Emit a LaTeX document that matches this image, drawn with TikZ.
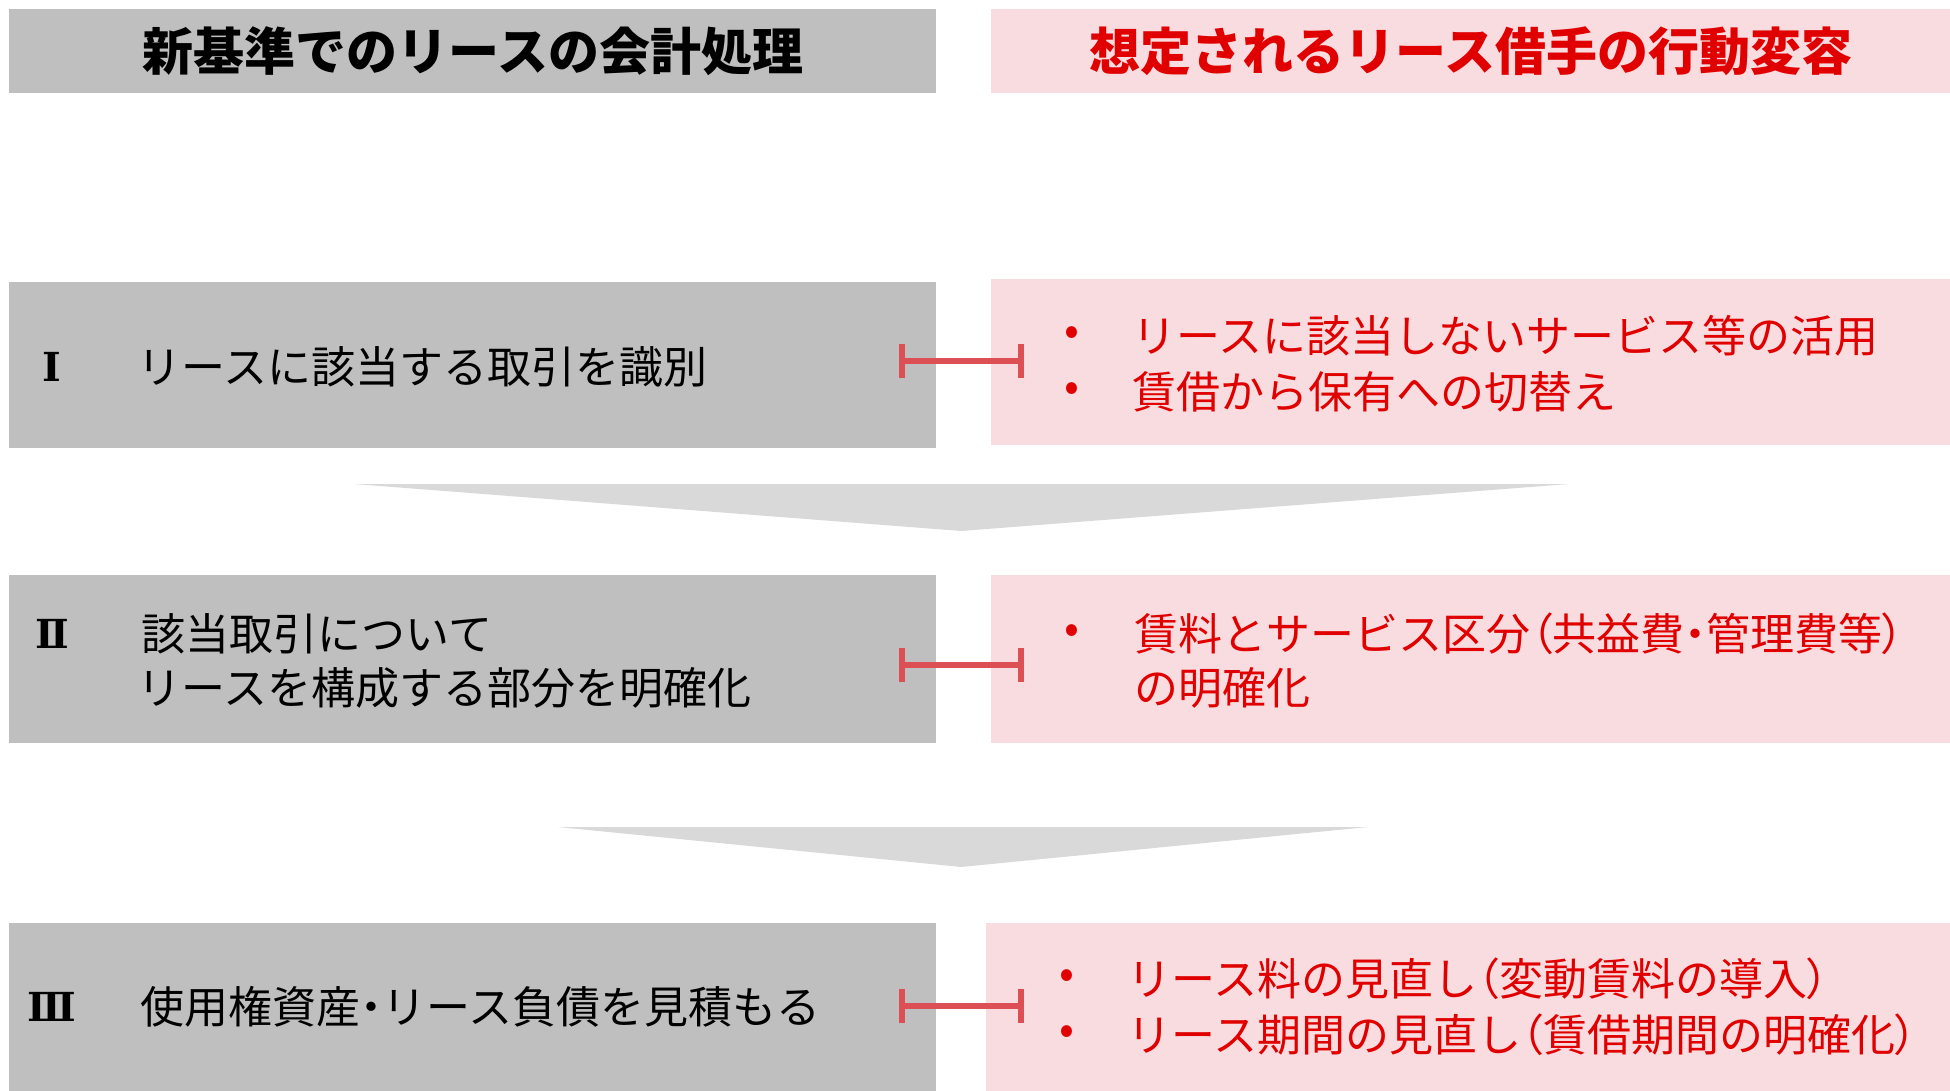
\documentclass[tikz,border=0pt]{standalone}
\usepackage{fontspec}
\newfontfamily\jp{Noto Sans CJK JP}
\newfontfamily\jpp[RawFeature=+palt]{Noto Sans CJK JP}
\newfontfamily\numf{DejaVu Serif}
\usetikzlibrary{arrows.meta}
\definecolor{boxgray}{HTML}{BFBFBF}
\definecolor{boxpink}{HTML}{F9DCDF}
\definecolor{txtred}{HTML}{E00000}
\definecolor{connred}{HTML}{DB4F55}
\definecolor{chev}{HTML}{D9D9D9}
\newcommand{\hw}[1]{{\jpp #1}}
\tikzset{
  lbox/.style={fill=boxgray, draw=none, anchor=north west, inner sep=0pt, minimum width=463.5pt},
  rbox/.style={fill=boxpink, draw=none, anchor=north west, inner sep=0pt},
  headL/.style={font=\jp\bfseries\fontsize{25.5pt}{30pt}\selectfont, text=black, inner sep=0pt},
  headR/.style={font=\jp\bfseries\fontsize{25.5pt}{30pt}\selectfont, text=txtred, inner sep=0pt},
  ltext/.style={font=\jp\fontsize{22pt}{27pt}\selectfont, text=black, inner sep=0pt, anchor=west, align=left},
  rtext/.style={font=\jp\fontsize{22pt}{27pt}\selectfont, text=txtred, inner sep=0pt, anchor=west, align=left},
  num/.style={font=\numf\bfseries\fontsize{20pt}{24pt}\selectfont, text=black, inner sep=0pt},
  bul/.style={font=\jp\fontsize{22pt}{27pt}\selectfont, text=txtred, inner sep=0pt},
  conn/.style={draw=connred, line width=2.6pt, {Bar[width=17pt,line width=3pt]}-{Bar[width=17pt,line width=3pt]}},
  chevron/.style={fill=chev, draw=none}
}
\begin{document}
\begin{tikzpicture}[x=0.5pt, y=-0.5pt]
\useasboundingbox (0,0) rectangle (1950,1091);
% headers
\node[lbox, minimum height=42pt] (hl) at (9,9) {};
\node[rbox, minimum width=479.5pt, minimum height=42pt] (hr) at (991,9) {};
\node[headL] (hlt) at (hl.center) {新基準でのリースの会計処理};
\node[headR] (hrt) at (hr.center) {想定されるリース借手の行動変容};
% row I
\node[lbox, minimum height=83pt] (l1) at (9,282) {};
\node[rbox, minimum width=479.5pt, minimum height=83pt] (r1) at (991,279) {};
\node[num] (n1) at (52,367) {Ⅰ};
\node[ltext] (l1t) at (137,367) {リースに該当する取引を識別};
\node[bul] (b1a) at (1072,336) {•};
\node[bul] (b1b) at (1072,392) {•};
\node[rtext] (r1a) at (1132,336) {リースに該当しないサービス等の活用};
\node[rtext] (r1b) at (1132,392) {賃借から保有への切替え};
\coordinate (c1a) at (899,361);
\coordinate (c1b) at (1024,361);
\draw[conn] (c1a) -- (c1b);
% chevron 1
\fill[chevron] (354,484) -- (1569,484) -- (961,531) -- cycle;
% row II
\node[lbox, minimum height=84pt] (l2) at (9,575) {};
\node[rbox, minimum width=479.5pt, minimum height=84pt] (r2) at (991,575) {};
\node[num] (n2) at (52,634) {Ⅱ};
\node[ltext] (l2t) at (137,661) {\hspace{2pt}該当取引について\\リースを構成する部分を明確化};
\node[bul] (b2a) at (1072,634) {•};
\node[rtext] (r2a) at (1134,661) {賃料とサービス区分\hw{（}共益費\hw{・}管理費等\hw{）}\\の明確化};
\coordinate (c2a) at (899,665);
\coordinate (c2b) at (1024,665);
\draw[conn] (c2a) -- (c2b);
% chevron 2
\fill[chevron] (558,827) -- (1368,827) -- (961,867) -- cycle;
% row III
\node[lbox, minimum height=84pt] (l3) at (9,923) {};
\node[rbox, minimum width=482pt, minimum height=84pt] (r3) at (986,923) {};
\node[num] (n3) at (52,1007) {Ⅲ};
\node[ltext] (l3t) at (140,1007) {使用権資産\hw{・}リース負債を見積もる};
\node[bul] (b3a) at (1067,979) {•};
\node[bul] (b3b) at (1067,1035) {•};
\node[rtext] (r3a) at (1127,979) {リース料の見直し\hw{（}変動賃料の導入\hw{）}};
\node[rtext] (r3b) at (1127,1035) {リース期間の見直し\hw{（}賃借期間の明確化\hw{）}};
\coordinate (c3a) at (899,1006);
\coordinate (c3b) at (1024,1006);
\draw[conn] (c3a) -- (c3b);
\end{tikzpicture}
\end{document}
